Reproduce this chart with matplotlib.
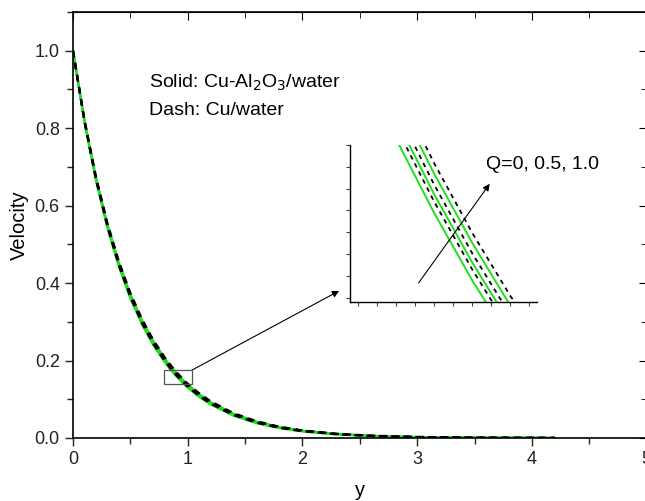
import matplotlib.pyplot as plt
from matplotlib.ticker import MultipleLocator
from matplotlib.patches import Rectangle

plt.rcParams['font.family'] = ['Liberation Sans', 'DejaVu Sans']

# data
y = [0, 0.1, 0.2, 0.3, 0.4, 0.5, 0.6, 0.7, 0.8, 0.85, 0.9, 0.95, 1.0, 1.1, 1.2,
     1.4, 1.6, 1.8, 2.0, 2.3, 2.6, 3.0, 3.5, 4.2]

# solid: Cu-Al2O3/water
solid_q0 = [1.0, 0.8155, 0.6650, 0.5423, 0.4422, 0.3606, 0.2940, 0.2398, 0.1955,
            0.1765, 0.1595, 0.1440, 0.1300, 0.1060, 0.0865, 0.0575, 0.0382,
            0.0254, 0.0169, 0.0092, 0.0050, 0.0022, 0.0008, 0.0002]
solid_q05 = [1.0, 0.8179, 0.6689, 0.5471, 0.4474, 0.3660, 0.2993, 0.2448, 0.2002,
             0.1811, 0.1638, 0.1481, 0.1339, 0.1095, 0.0896, 0.0599, 0.0401,
             0.0268, 0.0179, 0.0098, 0.0054, 0.0024, 0.0009, 0.0002]
solid_q1 = [1.0, 0.8205, 0.6731, 0.5523, 0.4531, 0.3718, 0.3050, 0.2503, 0.2053,
            0.1860, 0.1685, 0.1526, 0.1382, 0.1134, 0.0930, 0.0626, 0.0422,
            0.0284, 0.0191, 0.0106, 0.0058, 0.0026, 0.0010, 0.0003]
# dash: Cu/water
dash_q0 = [1.0, 0.8169, 0.6674, 0.5452, 0.4454, 0.3639, 0.2972, 0.2428, 0.1984,
           0.1793, 0.1621, 0.1465, 0.1324, 0.1082, 0.0884, 0.0590, 0.0394,
           0.0263, 0.0175, 0.0096, 0.0052, 0.0023, 0.0008, 0.0002]
dash_q05 = [1.0, 0.8191, 0.6710, 0.5496, 0.4502, 0.3688, 0.3021, 0.2475, 0.2027,
            0.1835, 0.1660, 0.1502, 0.1360, 0.1114, 0.0913, 0.0612, 0.0411,
            0.0276, 0.0185, 0.0102, 0.0056, 0.0025, 0.0009, 0.0002]
dash_q1 = [1.0, 0.8218, 0.6753, 0.5550, 0.4560, 0.3748, 0.3080, 0.2531, 0.2080,
           0.1886, 0.1709, 0.1549, 0.1404, 0.1154, 0.0948, 0.0640, 0.0433,
           0.0292, 0.0197, 0.0109, 0.0061, 0.0028, 0.0010, 0.0003]

solid_series = [solid_q0, solid_q05, solid_q1]
dash_series = [dash_q0, dash_q05, dash_q1]

green = '#22dd22'
fig = plt.figure(figsize=(6.45, 5.01), dpi=100)
ax = fig.add_axes([73 / 645, 63 / 501, 574 / 645, 426 / 501])

for s in solid_series:
    ax.plot(y, s, color=green, lw=1.6, solid_capstyle='butt')
for s in dash_series:
    ax.plot(y, s, color='black', lw=1.6, linestyle=(0, (3, 2.5)))

ax.set_xlim(0, 5.0035)
ax.set_ylim(0, 1.1)
ax.set_xticks([0, 1, 2, 3, 4, 5])
ax.xaxis.set_minor_locator(MultipleLocator(0.5))
ax.set_yticks([0, 0.2, 0.4, 0.6, 0.8, 1.0])
ax.set_yticklabels(['0.0', '0.2', '0.4', '0.6', '0.8', '1.0'])
ax.yaxis.set_minor_locator(MultipleLocator(0.1))
ax.tick_params(which='both', direction='out', top=False, right=False,
               labelsize=13, colors='#222222', width=1)
ax.tick_params(which='major', length=6)
ax.tick_params(which='minor', length=4)
for sp in ax.spines.values():
    sp.set_linewidth(1.2)

# inward ticks on top and right
axt = ax.secondary_xaxis('top')
axt.xaxis.set_major_locator(MultipleLocator(1))
axt.xaxis.set_minor_locator(MultipleLocator(0.5))
axt.tick_params(which='both', direction='in', labeltop=False)
axt.tick_params(which='major', length=6)
axt.tick_params(which='minor', length=4)
axr = ax.secondary_yaxis('right')
axr.yaxis.set_major_locator(MultipleLocator(0.2))
axr.yaxis.set_minor_locator(MultipleLocator(0.1))
axr.tick_params(which='both', direction='in', labelright=False)
axr.tick_params(which='major', length=6)
axr.tick_params(which='minor', length=4)

ax.set_xlabel('y', fontsize=14.5, labelpad=9)
ax.set_ylabel('Velocity', fontsize=14.5, labelpad=4)

ax.text(0.66, 0.918, 'Solid: Cu-Al$_2$O$_3$/water', fontsize=14, va='center')
ax.text(0.66, 0.845, 'Dash: Cu/water', fontsize=14, va='center')
ax.text(3.6, 0.705, 'Q=0, 0.5, 1.0', fontsize=14, va='center')

# zoom box and arrow to inset
x0, x1, v0, v1 = 0.79, 1.035, 0.139, 0.175
ax.add_patch(Rectangle((x0, v0), x1 - x0, v1 - v0, fill=False,
                       edgecolor='#555555', lw=0.9, zorder=5))
ax.annotate('', xy=(2.32, 0.38), xytext=(x1, v1),
            arrowprops=dict(arrowstyle='-|>', color='black', lw=0.8,
                            mutation_scale=10, shrinkA=0, shrinkB=0))

# inset
ins = fig.add_axes([350 / 645, 199 / 501, 187 / 645, 157 / 501])
for s in solid_series:
    ins.plot(y, s, color=green, lw=1.4)
for s in dash_series:
    ins.plot(y, s, color='black', lw=1.3, linestyle=(0, (2.5, 2.5)))
ins.set_xlim(x0, x1)
ins.set_ylim(v0, v1)
ins.xaxis.set_major_locator(MultipleLocator(0.025))
ins.yaxis.set_major_locator(MultipleLocator(0.005))
ins.tick_params(direction='out', length=3, labelbottom=False, labelleft=False,
                colors='#444444')
ins.spines['top'].set_visible(False)
ins.spines['right'].set_visible(False)
for sp in ['left', 'bottom']:
    ins.spines[sp].set_linewidth(1.0)
ins.patch.set_alpha(0)
ins.annotate('', xy=(0.973, 0.1661), xytext=(0.880, 0.1434),
             arrowprops=dict(arrowstyle='-|>', color='black', lw=0.8,
                             mutation_scale=10, shrinkA=0, shrinkB=0))

fig.savefig('out.png', dpi=100)
